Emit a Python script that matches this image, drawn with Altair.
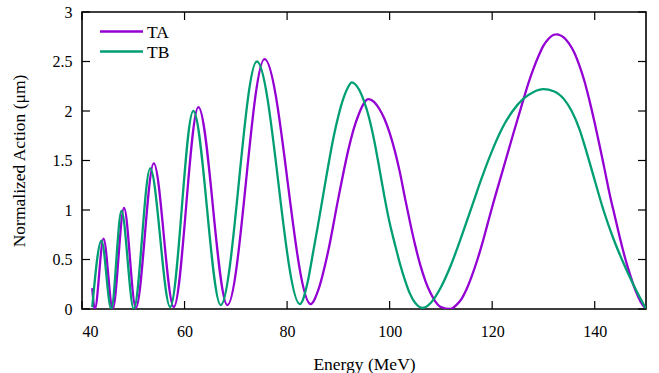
import altair as alt
import pandas as pd

# ---- data ----
ta_x = [42.0, 42.5, 44.2, 46.0, 48.2, 50.5, 54.0, 57.9, 62.7, 68.35, 75.6, 84.6,
        86.0, 88.0, 90.0, 92.0, 93.0, 94.0, 95.0, 95.85, 97.0, 98.0, 99.0, 100.0, 101.0,
        102.0, 103.0, 104.0, 105.0, 106.0, 107.0, 108.0, 109.0, 110.0, 111.9,
        113.0, 114.0, 115.0, 116.0, 117.0, 118.0, 119.0, 120.0, 122.0, 124.0, 126.0,
        127.0, 128.0, 129.0, 130.0, 131.0, 132.0, 132.6, 133.0, 134.0, 135.0, 136.0,
        137.0, 138.0, 139.0, 140.0, 141.0, 142.0, 143.0, 144.0, 145.0, 146.0, 147.0,
        148.0, 149.0, 150.0]
ta_y = [0.21, 0.0, 0.71, 0.0, 1.02, 0.01, 1.47, 0.02, 2.04, 0.04, 2.525, 0.05,
        0.18, 0.58, 1.12, 1.62, 1.82, 1.97, 2.08, 2.12, 2.09, 2.02, 1.92, 1.78, 1.6,
        1.38, 1.12, 0.87, 0.64, 0.44, 0.28, 0.16, 0.07, 0.02, 0.0,
        0.04, 0.10, 0.20, 0.33, 0.48, 0.65, 0.84, 1.03, 1.39, 1.75, 2.10,
        2.27, 2.42, 2.55, 2.66, 2.73, 2.77, 2.775, 2.77, 2.74, 2.68, 2.59,
        2.46, 2.30, 2.10, 1.88, 1.64, 1.39, 1.14, 0.92, 0.70, 0.50, 0.33,
        0.18, 0.07, 0.0]

tb_x = [42.0, 43.8, 45.7, 47.7, 50.1, 53.3, 57.2, 61.7, 67.05, 74.1, 82.5,
        84.0, 85.0, 86.0, 87.0, 88.0, 89.0, 90.0, 91.0, 92.0, 92.6, 94.0, 95.0, 96.0,
        97.0, 98.0, 99.0, 100.0, 101.0, 102.0, 103.0, 104.0, 105.0, 106.45,
        108.0, 110.0, 112.0, 114.0, 116.0, 118.0, 120.0, 122.0, 124.0, 126.0, 128.0,
        130.0, 132.0, 134.0, 135.5, 137.0, 138.5, 140.0, 141.7, 143.5, 145.3, 147.5, 150.0]
tb_y = [0.02, 0.69, 0.0, 0.99, 0.0, 1.42, 0.02, 2.0, 0.04, 2.50, 0.05,
        0.27, 0.55, 0.84, 1.14, 1.44, 1.72, 1.95, 2.13, 2.25, 2.29, 2.22, 2.10, 1.93,
        1.70, 1.42, 1.13, 0.87, 0.66, 0.46, 0.29, 0.15, 0.06, 0.01,
        0.06, 0.22, 0.45, 0.73, 1.03, 1.33, 1.60, 1.83, 2.00, 2.12, 2.19,
        2.22, 2.20, 2.12, 2.00, 1.82, 1.57, 1.30, 1.0, 0.73, 0.5, 0.25, 0.0]

series_names = ["TA", "TB"]
series_colors = ["#9400D3", "#009E73"]
x_ticks = [40, 60, 80, 100, 120, 140]
y_ticks = [0, 0.5, 1, 1.5, 2, 2.5, 3]

curves = pd.concat([
    pd.DataFrame({"energy": ta_x, "action": ta_y, "series": series_names[0]}),
    pd.DataFrame({"energy": tb_x, "action": tb_y, "series": series_names[1]}),
], ignore_index=True)
xt = pd.DataFrame({"energy": x_ticks})
yt = pd.DataFrame({"action": y_ticks})
leg = pd.DataFrame({"series": series_names})

W, H = 564, 297
FONT = "Liberation Serif"
TICK = 8

xs = alt.Scale(domain=[40, 150], nice=False, zero=False)
ys = alt.Scale(domain=[0, 3], nice=False, zero=True)
color = alt.Color("series:N", scale=alt.Scale(domain=series_names, range=series_colors), legend=None)

x_axis = alt.Axis(
    values=x_ticks, title="Energy (MeV)", ticks=False, tickSize=0, domain=False, grid=False,
    labelPadding=14, labelFontSize=16, labelFont=FONT, labelColor="black",
    titleFont=FONT, titleFontSize=17.5, titleFontWeight="normal", titleColor="black",
    titleX=W / 2, titleY=55, titleBaseline="middle", titleAlign="center")
y_axis = alt.Axis(
    values=y_ticks, format="~g", title="Normalized Action (μm)", ticks=False, tickSize=0,
    domain=False, grid=False, labelPadding=10, labelFontSize=16, labelFont=FONT,
    labelColor="black", titleFont=FONT, titleFontSize=17.5, titleFontWeight="normal",
    titleColor="black", titleX=-63, titleY=H / 2, titleAngle=270,
    titleBaseline="middle", titleAlign="center")

X = alt.X("energy:Q", scale=xs, axis=x_axis)
Y = alt.Y("action:Q", scale=ys, axis=y_axis)

lines = alt.Chart(curves).mark_line(strokeWidth=2.3, interpolate="monotone", clip=True).encode(
    x=X, y=Y, color=color)

rule = dict(color="black", strokeWidth=1.2)
bottom_ticks = alt.Chart(xt).mark_rule(**rule).encode(x=X, y=alt.value(H), y2=alt.value(H - TICK))
top_ticks = alt.Chart(xt).mark_rule(**rule).encode(x=X, y=alt.value(0), y2=alt.value(TICK))
left_ticks = alt.Chart(yt).mark_rule(**rule).encode(y=Y, x=alt.value(0), x2=alt.value(TICK))
right_ticks = alt.Chart(yt).mark_rule(**rule).encode(y=Y, x=alt.value(W), x2=alt.value(W - TICK))

legend_layers = []
for i, name in enumerate(series_names):
    base = alt.Chart(leg).transform_filter(alt.datum.series == name)
    yy = 19.5 + 20 * i
    legend_layers.append(base.mark_rule(strokeWidth=2.3).encode(
        x=alt.value(18), x2=alt.value(61), y=alt.value(yy), color=color))
    legend_layers.append(base.mark_text(align="left", baseline="middle", font=FONT,
                                        fontSize=17.5, color="black").encode(
        x=alt.value(65), y=alt.value(yy + 1), text="series:N"))

chart = alt.layer(lines, bottom_ticks, top_ticks, left_ticks, right_ticks, *legend_layers).properties(
    width=W, height=H,
    autosize=alt.AutoSizeParams(type="none"),
    padding={"left": 82, "top": 12, "right": 13, "bottom": 64},
    background="white",
).configure(font=FONT).configure_axis(
    labelFont=FONT, titleFont=FONT
).configure_text(font=FONT).configure_view(stroke="black", strokeWidth=1.6)

chart.save("out.html", embed_options={"renderer": "svg", "actions": False})
